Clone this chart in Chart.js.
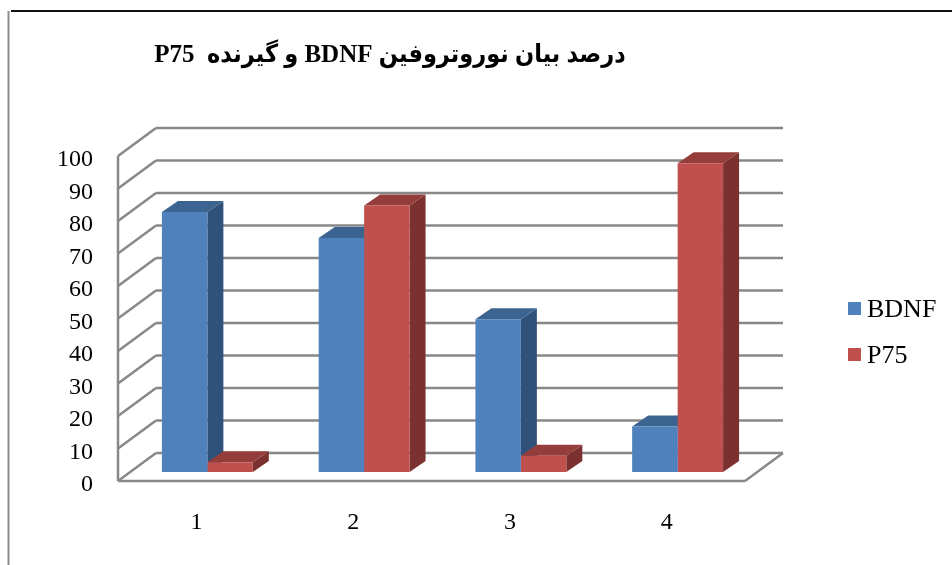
<!DOCTYPE html>
<html lang="fa">
<head>
  <meta charset="UTF-8" />
  <title>BDNF / P75</title>
  <script src="https://cdn.jsdelivr.net/npm/chart.js"></script>
  <style>
    body { margin: 0; background: #fff; }
    canvas { display: block; }
  </style>
</head>
<body>
  <canvas id="chart" width="952" height="565"></canvas>

  <script>
    const categories = ["1", "2", "3", "4"];
    const bdnfValues = [80, 72, 47, 14];
    const p75Values = [3, 82, 5, 95];
    const seriesNames = ["BDNF", "P75"];
    const chartTitle = "درصد بیان نوروتروفین BDNF و گیرنده  P75";

    const SERIF = '"Liberation Serif", "Times New Roman", serif';
    const faces = [
      { front: "#4F81BD", top: "#3C6491", side: "#30527A" },
      { front: "#C0504D", top: "#943D3A", side: "#7B312F" }
    ];

    // depth of the box (back wall vs bar plane), and of each bar
    const BACK = { dx: 27, dy: -19 };
    const FRONT = { dx: -11, dy: 9 };
    const BAR = { dx: 16, dy: -11 };

    function line(ctx, x1, y1, x2, y2) {
      ctx.beginPath();
      ctx.moveTo(x1, y1);
      ctx.lineTo(x2, y2);
      ctx.stroke();
    }

    function poly(ctx, pts, color) {
      ctx.beginPath();
      ctx.moveTo(pts[0][0], pts[0][1]);
      for (let i = 1; i < pts.length; i++) ctx.lineTo(pts[i][0], pts[i][1]);
      ctx.closePath();
      ctx.fillStyle = color;
      ctx.fill();
    }

    const box3d = {
      id: "box3d",
      beforeDatasetsDraw(chart) {
        const ctx = chart.ctx;
        const area = chart.chartArea;
        const y = chart.scales.y;
        ctx.save();

        // walls and gridlines
        ctx.strokeStyle = "#888";
        ctx.lineWidth = 2.5;
        y.ticks.forEach(t => {
          const py = y.getPixelForValue(t.value);
          line(ctx, area.left + BACK.dx, py + BACK.dy, area.right + BACK.dx, py + BACK.dy);
          line(ctx, area.left + FRONT.dx, py + FRONT.dy, area.left + BACK.dx, py + BACK.dy);
        });
        const top = y.getPixelForValue(y.max);
        const zero = y.getPixelForValue(0);
        line(ctx, area.left + FRONT.dx, top + FRONT.dy, area.left + FRONT.dx, zero + FRONT.dy);
        // floor
        line(ctx, area.left + FRONT.dx, zero + FRONT.dy, area.right + FRONT.dx, zero + FRONT.dy);
        line(ctx, area.right + FRONT.dx, zero + FRONT.dy, area.right + BACK.dx, zero + BACK.dy);

        // bar tops and sides
        const n = chart.data.labels.length;
        for (let i = 0; i < n; i++) {
          chart.data.datasets.forEach((ds, d) => {
            const bar = chart.getDatasetMeta(d).data[i];
            const x0 = bar.x - bar.width / 2, x1 = bar.x + bar.width / 2;
            const yt = bar.y, yb = bar.base;
            const f = faces[d];
            poly(ctx, [[x1, yt], [x1 + BAR.dx, yt + BAR.dy], [x1 + BAR.dx, yb + BAR.dy], [x1, yb]], f.side);
            poly(ctx, [[x0, yt], [x1, yt], [x1 + BAR.dx, yt + BAR.dy], [x0 + BAR.dx, yt + BAR.dy]], f.top);
          });
        }
        ctx.restore();
      },
      afterDraw(chart) {
        const ctx = chart.ctx;
        ctx.save();
        // outer frame
        ctx.strokeStyle = "#111";
        ctx.lineWidth = 2;
        line(ctx, 11, 11, 952, 11);
        ctx.strokeStyle = "#8c8c8c";
        line(ctx, 8.5, 11, 8.5, 565);

        // title
        ctx.fillStyle = "#000";
        ctx.font = 'bold 25px "Liberation Serif", "DejaVu Sans Condensed", "DejaVu Sans", serif';
        ctx.direction = "rtl";
        ctx.textAlign = "center";
        ctx.textBaseline = "middle";
        ctx.fillText(chartTitle, 390, 56);

        // legend
        ctx.direction = "ltr";
        ctx.textAlign = "left";
        ctx.font = "26px " + SERIF;
        chart.data.datasets.forEach((ds, d) => {
          const cy = 309 + d * 46;
          ctx.fillStyle = faces[d].front;
          ctx.fillRect(848, cy - 7, 13, 13);
          ctx.fillStyle = "#000";
          ctx.fillText(ds.label, 867, cy + 1);
        });
        ctx.restore();
      }
    };

    new Chart(document.getElementById("chart"), {
      type: "bar",
      data: {
        labels: categories,
        datasets: [
          { label: seriesNames[0], data: bdnfValues, backgroundColor: faces[0].front, borderWidth: 0 },
          { label: seriesNames[1], data: p75Values, backgroundColor: faces[1].front, borderWidth: 0 }
        ]
      },
      options: {
        responsive: false,
        animation: false,
        layout: { padding: { top: 147, right: 196, bottom: 0, left: 0 } },
        categoryPercentage: 0.58,
        barPercentage: 1.0,
        plugins: {
          legend: { display: false },
          title: { display: false },
          tooltip: { enabled: false }
        },
        scales: {
          x: {
            grid: { display: false, drawTicks: false },
            border: { display: false },
            ticks: { color: "#000", font: { family: SERIF, size: 24 }, padding: 36, labelOffset: -11 },
            afterFit: s => { s.height = 93; }
          },
          y: {
            min: 0,
            max: 100,
            grid: { display: false, drawTicks: false },
            border: { display: false },
            ticks: { stepSize: 10, autoSkip: false, color: "#000", font: { family: SERIF, size: 24 }, padding: 36, labelOffset: 13 },
            afterFit: s => { s.width = 129; }
          }
        }
      },
      plugins: [box3d]
    });
  </script>
</body>
</html>
